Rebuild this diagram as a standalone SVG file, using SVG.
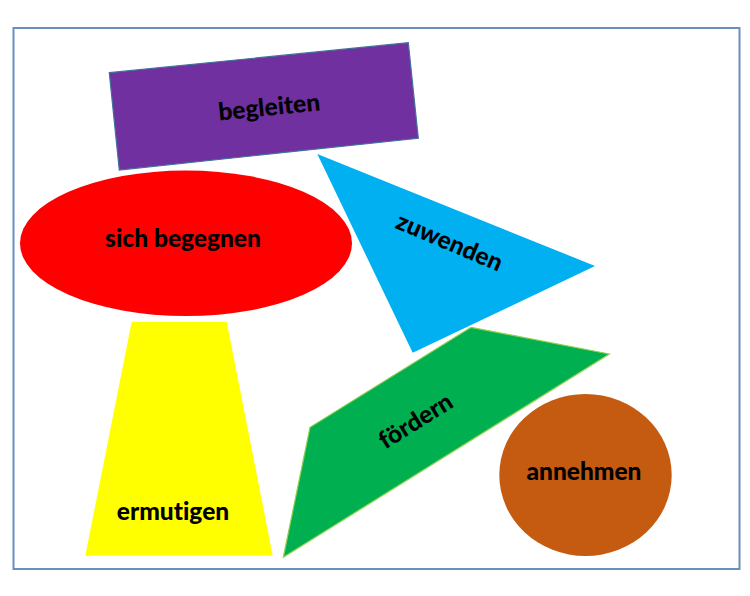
<svg xmlns="http://www.w3.org/2000/svg" width="750" height="596" viewBox="0 0 750 596">
<style>
.lbl{font-family:Lato,"Open Sans","Liberation Sans",sans-serif;font-weight:900;font-size:24.5px;fill:#000;text-anchor:middle;dominant-baseline:central;font-variant-ligatures:none;font-feature-settings:"liga" 0,"dlig" 0}
</style>
<rect width="750" height="596" fill="#fff"/>
<rect id="frame" x="13.5" y="28" width="726" height="541" fill="none" stroke="#6a8fbd" stroke-width="2"/>
<g id="begleiten">
<polygon points="109.3,72.7 408.3,42.7 418.3,138.3 119.3,170" fill="#7030a0" stroke="#41719c" stroke-width="1.2"/>
<text class="lbl" x="269" y="106" transform="rotate(-5.7 269 106)">begleiten</text>
</g>
<g id="sich-begegnen">
<ellipse cx="186" cy="243.3" rx="166" ry="72.8" fill="#ff0000"/>
<text class="lbl" x="183" y="237">sich begegnen</text>
</g>
<g id="zuwenden">
<polygon points="317.3,154 595,266 412.7,352.7" fill="#00b0f0"/>
<text class="lbl" x="450" y="241" transform="rotate(23 450 241)">zuwenden</text>
</g>
<g id="ermutigen">
<polygon points="131.7,321.7 226.7,321.7 272.7,555.7 85.3,555.7" fill="#ffff00"/>
<text class="lbl" x="173" y="510">ermutigen</text>
</g>
<g id="foerdern">
<polygon points="471,327.3 609.3,354 283.3,557.3 310,427.3" fill="#00b050" stroke="#92d050" stroke-width="1.2"/>
<text class="lbl" x="415" y="420" transform="rotate(-32 415 420)">fördern</text>
</g>
<g id="annehmen">
<ellipse cx="585.5" cy="475" rx="86.2" ry="81" fill="#c55a11"/>
<text class="lbl" x="584" y="470">annehmen</text>
</g>
<g id="connectors"/>
</svg>
